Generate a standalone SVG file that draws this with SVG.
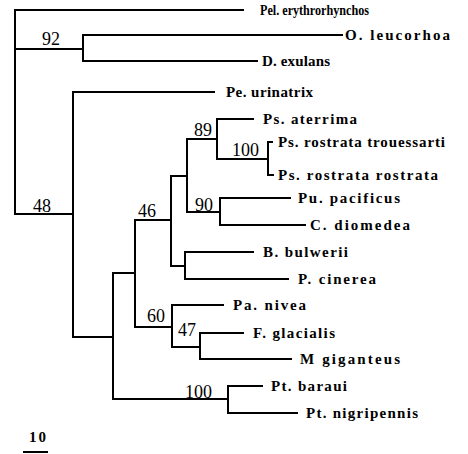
<svg xmlns="http://www.w3.org/2000/svg" width="468" height="454" viewBox="0 0 468 454">
<style>
.b{stroke:#000;stroke-width:2;fill:none;stroke-linecap:square}
.t{font-family:"Liberation Serif","Times New Roman",serif;font-weight:bold;font-size:15px;fill:#000}
.n{font-family:"Liberation Serif","Times New Roman",serif;font-size:18px;fill:#000}
</style>
<rect width="468" height="454" fill="#fff"/>
<g id="connectors">
<path class="b" d="M15,10V214M15,10H243M15,49H83M83,35V61M83,35H342M83,61H257M15,214H73M73,92V337M73,92H214M73,337H113M113,273V399M113,273H135M135,220V327M135,220H171M135,327H172M171,176V266M171,176H187M172,266H185M185,252V279M185,252H253M185,279H288M187,139V212M187,139H217M187,212H220M217,119V159M217,119H253M217,159H268M268,142V175M268,142H272M268,175H273M220,198V225M220,198H290M220,225H305M172,305V347M172,305H223M172,347H200M200,333V359M200,333H243M200,359H291M113,399H228M228,386V413M228,386H262M228,413H297"/>
<path class="b" d="M24,452H47"/>
</g>
<g id="leaves">
<g id="pel"><text class="t" x="260" y="15" style="font-size:14px" textLength="109" lengthAdjust="spacingAndGlyphs">Pel. erythrorhynchos</text></g>
<g id="oleu"><text class="t" x="345" y="40" textLength="105" lengthAdjust="spacing">O. leucorhoa</text></g>
<g id="dexu"><text class="t" x="262" y="66" textLength="68" lengthAdjust="spacing">D. exulans</text></g>
<g id="peur"><text class="t" x="226" y="97" textLength="87" lengthAdjust="spacing">Pe. urinatrix</text></g>
<g id="psat"><text class="t" x="263" y="124" textLength="94" lengthAdjust="spacing">Ps. aterrima</text></g>
<g id="psrt"><text class="t" x="278" y="147" textLength="167" lengthAdjust="spacing">Ps. rostrata trouessarti</text></g>
<g id="psrr"><text class="t" x="278" y="180" textLength="160" lengthAdjust="spacing">Ps. rostrata rostrata</text></g>
<g id="pupa"><text class="t" x="298" y="203" textLength="102" lengthAdjust="spacing">Pu. pacificus</text></g>
<g id="cdio"><text class="t" x="310" y="230" textLength="100" lengthAdjust="spacing">C. diomedea</text></g>
<g id="bbul"><text class="t" x="263" y="257" textLength="85" lengthAdjust="spacing">B. bulwerii</text></g>
<g id="pcin"><text class="t" x="298" y="284" textLength="78" lengthAdjust="spacing">P. cinerea</text></g>
<g id="pani"><text class="t" x="233" y="310" textLength="73" lengthAdjust="spacing">Pa. nivea</text></g>
<g id="fgla"><text class="t" x="253" y="338" textLength="82" lengthAdjust="spacing">F. glacialis</text></g>
<g id="mgig"><text class="t" x="300" y="364" textLength="100" lengthAdjust="spacing">M giganteus</text></g>
<g id="ptba"><text class="t" x="271" y="391" textLength="76" lengthAdjust="spacing">Pt. baraui</text></g>
<g id="ptni"><text class="t" x="306" y="418" textLength="112" lengthAdjust="spacing">Pt. nigripennis</text></g>
</g>
<g id="support">
<text class="n" x="42" y="45">92</text>
<text class="n" x="33" y="212">48</text>
<text class="n" x="138" y="217">46</text>
<text class="n" x="194" y="136">89</text>
<text class="n" x="232" y="156">100</text>
<text class="n" x="195" y="211">90</text>
<text class="n" x="147" y="322">60</text>
<text class="n" x="178" y="336">47</text>
<text class="n" x="185" y="398">100</text>
</g>
<g id="scale">
<text class="t" x="29" y="442" style="font-size:15px" textLength="17" lengthAdjust="spacing">10</text>
</g>
</svg>
